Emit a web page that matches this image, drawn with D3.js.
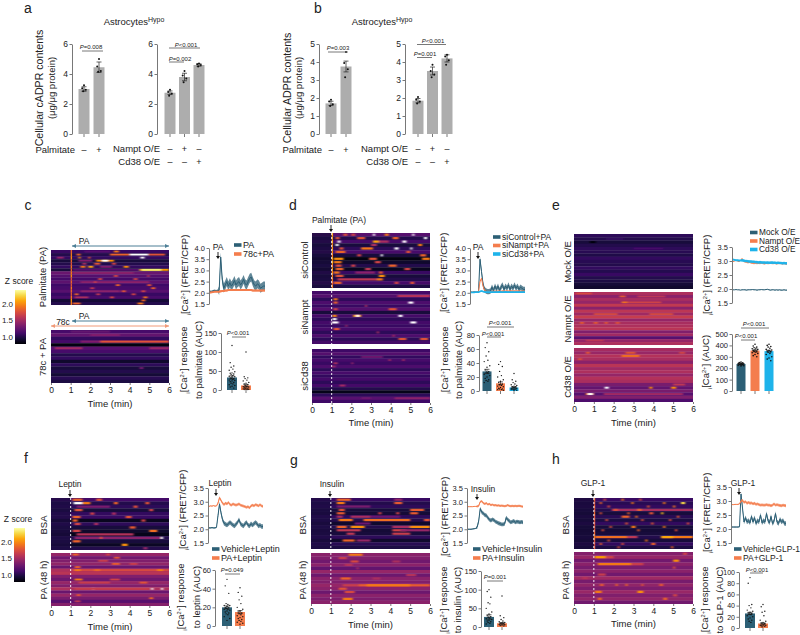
<!DOCTYPE html>
<html>
<head>
<meta charset="utf-8">
<script src="https://cdn.jsdelivr.net/npm/d3@7"></script>
<style>
body { margin: 0; background: #fff; }
text { font-family: "Liberation Sans", Arial, sans-serif; fill: #222; }
</style>
</head>
<body>
<div id="fig"></div>
<script>
var teal = '#2c5f75', orange = '#f47d4d', cyan = '#1eb3ea', grey = '#adadad';

// bar panels a, b
var aPalmMeans = [3.0, 4.45], aPalmErr = [0.15, 0.35];
var aPalmDots = [[3.25, 3.05, 2.95, 2.85], [5.0, 4.5, 4.2, 4.15]];
var aOeMeans = [2.75, 3.8, 4.6], aOeErr = [0.12, 0.25, 0.08];
var aOeDots = [[2.95, 2.8, 2.7, 2.55], [4.2, 3.9, 3.7, 3.45], [4.7, 4.65, 4.6, 4.5]];
var bPalmMeans = [1.7, 3.75], bPalmErr = [0.12, 0.3];
var bPalmDots = [[1.9, 1.8, 1.65, 1.55], [4.55, 3.95, 3.6, 3.15]];
var bOeMeans = [1.85, 3.5, 4.2], bOeErr = [0.12, 0.22, 0.2];
var bOeDots = [[2.05, 1.9, 1.8, 1.7], [3.85, 3.5, 3.3, 3.15], [4.4, 4.3, 4.1, 3.85]];

// calcium traces, one value every 10 s
var cPa = [2.05,2.05,2.08,2.1,2.08,2.1,2.1,3.6,2.6,2.2,2.35,2.5,2.3,2.45,2.3,2.4,2.55,2.35,2.45,2.5,2.35,2.45,2.6,2.4,2.35,2.5,2.65,2.7,2.5,2.35,2.3,2.4,2.35,2.2,2.25,2.3,2.3];
var c78 = [2.0,2.02,2.03,2.05,2.05,2.05,2.05,2.07,2.08,2.08,2.1,2.1,2.12,2.12,2.12,2.12,2.13,2.12,2.12,2.12,2.12,2.12,2.13,2.13,2.12,2.12,2.12,2.12,2.1,2.1,2.1,2.1,2.1,2.1,2.1,2.1,2.1];
var dCtl = [2.03,2.02,2.04,2.03,2.03,2.05,3.5,2.95,2.4,2.15,2.08,2.05,2.05,2.08,2.25,2.1,2.3,2.15,2.3,2.1,2.25,2.35,2.15,2.3,2.2,2.35,2.15,2.3,2.2,2.35,2.2,2.3,2.15,2.25,2.2,2.15,2.15];
var dNam = [2.03,2.03,2.03,2.03,2.04,2.05,2.5,2.65,2.3,2.12,2.06,2.05,2.05,2.05,2.06,2.06,2.07,2.06,2.07,2.07,2.06,2.08,2.07,2.07,2.08,2.07,2.08,2.08,2.07,2.08,2.07,2.08,2.07,2.07,2.07,2.07,2.06];
var dCd = [2.02,2.02,2.02,2.03,2.03,2.03,2.06,2.08,2.06,2.04,2.03,2.03,2.03,2.03,2.03,2.03,2.03,2.03,2.03,2.04,2.03,2.03,2.03,2.04,2.03,2.03,2.03,2.03,2.03,2.03,2.03,2.03,2.03,2.03,2.03,2.03,2.03];
var eMock = [1.97,1.97,1.98,1.97,1.97,1.96,1.97,1.97,1.97,1.96,1.97,1.97,1.97,1.98,1.97,1.97,1.96,1.97,1.97,1.98,1.97,1.97,1.98,1.99,1.97,1.96,1.97,1.97,1.96,1.97,1.96,1.97,1.96,1.96,1.97,1.96,1.96];
var eNam = [2.98,3.0,3.02,3.0,2.98,3.02,3.08,3.0,2.98,2.97,2.95,2.97,2.94,2.93,2.92,2.93,2.92,2.93,2.92,2.94,2.92,2.91,2.93,2.92,2.92,2.94,2.92,2.92,2.93,2.91,2.92,2.93,2.92,2.91,2.92,2.91,2.9];
var eCd = [3.05,3.04,3.03,3.03,3.02,3.02,3.03,3.02,3.0,3.0,2.99,2.98,2.98,2.97,2.97,2.96,2.96,2.95,2.96,2.95,2.95,2.95,2.94,2.95,2.94,2.94,2.95,2.94,2.94,2.93,2.94,2.93,2.93,2.92,2.93,2.92,2.92];
var fVeh = [2.05,2.05,2.06,2.05,2.05,2.07,2.5,2.92,2.6,2.35,2.22,2.18,2.15,2.2,2.25,2.2,2.15,2.12,2.18,2.25,2.35,2.2,2.15,2.12,2.2,2.25,2.15,2.12,2.2,2.15,2.2,2.25,2.2,2.12,2.15,2.1,2.1];
var fPa = [2.83,2.85,2.84,2.86,2.84,2.85,2.95,3.15,3.05,2.95,2.9,2.95,2.92,2.98,2.9,2.88,2.92,2.9,2.88,2.9,2.92,2.88,2.86,2.84,2.82,2.8,2.82,2.78,2.85,2.88,2.85,2.9,2.88,2.85,2.9,2.85,2.83];
var gVeh = [2.0,2.0,2.0,2.01,2.02,2.03,2.08,2.3,2.75,2.62,2.58,2.52,2.5,2.42,2.35,2.32,2.36,2.33,2.28,2.25,2.22,2.2,2.18,2.18,2.2,2.42,2.35,2.3,2.25,2.28,2.3,2.25,2.28,2.27,2.25,2.27,2.25];
var gPa = [2.82,2.82,2.82,2.82,2.83,2.83,2.83,2.85,3.0,3.02,2.95,2.92,2.95,2.9,2.92,2.88,2.9,2.87,2.88,2.86,2.87,2.85,2.86,2.85,2.84,2.85,2.88,2.85,2.84,2.85,2.84,2.85,2.84,2.85,2.85,2.83,2.82];
var hVeh = [2.07,2.07,2.07,2.07,2.07,2.08,3.25,2.75,2.25,2.4,2.25,2.3,2.22,2.45,2.25,2.4,2.2,2.3,2.25,2.5,2.22,2.3,2.25,2.55,2.3,2.22,2.45,2.2,2.28,2.55,2.25,2.2,2.35,2.25,2.3,2.2,2.2];
var hPa = [2.87,2.87,2.88,2.88,2.88,2.9,3.0,3.02,2.95,2.98,2.92,2.95,2.92,2.93,2.9,2.92,2.88,2.9,2.87,2.85,2.86,2.85,2.85,2.87,2.85,2.85,2.83,2.85,2.9,2.85,2.87,2.85,2.84,2.83,2.85,2.84,2.83];

// response (AUC) per cell
var cAuc = [[117,72,63,60,55,52,48,45,44,42,40,38,36,35,34,32,30,30,28,26,25,24,22,20,18,16,14,12,10,8,5],
            [100,35,32,30,26,24,20,18,16,14,12,10,9,8,7,6,5,4,3,3,2,2,1,1]];
var cAucMeans = [33, 12], cAucErr = [4, 3];
var dAuc = [[69,62,56,50,44,42,36,34,30,28,27,26,24,22,20,18,16,15,14,12],
            [42,38,35,28,22,20,16,14,12,10,9,8,7,6,5,4,3,3,2,2,1],
            [25,16,14,12,10,9,8,7,6,6,5,5,4,4,3,3,3,2,2,2,1,1]];
var dAucMeans = [28, 11, 5], dAucErr = [3, 2, 1];
var eAuc = [[255,250,248,245,242,240,238,236,235,232,230,228,225,222,220],
            [410,395,385,380,375,370,365,360,355,350,345,340,335,330,320,310,300],
            [410,400,390,385,375,365,360,355,350,345,340,330,320,300,290,280,265]];
var eAucMeans = [237, 355, 350], eAucErr = [4, 6, 8];
var fAuc = [[50,43,35,24,23,22,22,21,20,20,19,18,18,17,16,15,14,13,12,10,8,6],
            [41,36,32,28,24,20,18,16,15,14,13,12,11,10,9,8,7,6,5,4,3,2]];
var fAucMeans = [20, 15], fAucErr = [1.5, 1.5];
var gAuc = [[100,95,80,65,62,50,40,35,30,28,26,24,22,20,18,16,14,12,10,8],
            [83,30,25,20,16,14,12,11,10,9,8,8,7,6,5,4,3]];
var gAucMeans = [27, 10], gAucErr = [6, 2];
var hAuc = [[90,80,42,40,36,32,30,28,27,26,25,24,22,20,18,16,14,12,10],
            [42,38,30,28,22,14,12,10,9,8,7,6,5,5,4,4,3,2]];
var hAucMeans = [26, 8], hAucErr = [2, 1];

// heat maps: z per row, then hot stretches [row, from min, to min, z]
var cTopRows = [1.15,1.05,1.12,1.0,1.05,1.12,1.0,1.38,1.28,1.2,1.32,1.18,1.22,1.3,1.15,1.22,0.98,1.05];
var cTopSpots = [[0,3.2,3.45,2.2],[0,1.7,3,1.3],[1,4,4.95,3],[1,3,4,2.1],[1,4.95,5.8,2.0],[1,1.3,1.5,2.1],[2,1.4,1.5,2.4],[2,1.9,2,2.1],[2,4.55,4.75,3],[2,0.3,0.65,1.6],
  [3,2.3,3.2,2.3],[3,2.6,2.9,3],[3,1.4,2.1,1.5],[4,2.2,2.5,2.0],[4,3.1,3.3,1.9],[4,1.6,1.8,1.7],[5,1.5,1.75,2.2],[5,1.9,2.15,2.4],[5,3.7,3.95,2.3],[5,2.5,3.1,1.5],
  [6,4.5,6,2.35],[6,4.6,5.6,2.7],[6,1.1,4.5,1.3],[7,1.1,4.2,1.55],[8,3.2,3.4,1.9],[8,4.9,5,1.8],[9,2.4,2.6,1.9],[9,4.2,4.4,1.9],[10,1.5,5,1.55],[10,2.2,2.3,1.9],
  [11,3.3,3.5,2.1],[11,4.9,5.1,2],[12,2,2.2,1.8],[12,5.1,5.3,2.1],[13,1.5,3.5,1.55],[13,3.6,3.8,2],[13,4.6,4.8,1.9],[14,1.2,1.4,2.1],[14,2.3,2.5,1.8],[14,4.1,4.3,1.9],
  [15,1.2,1.9,1.7],[15,3,3.2,1.9],[15,4.7,4.9,2.2],[16,4.6,4.8,2.1],[17,1.1,1.5,2.1],[17,4.4,4.7,2.2]];
var cTopOnset = [2.1,2.2,2.3,2.1,2,2.2,2.1,2.2,2.3,2,2.1,2,2.2,2.1,2,2.2,2.3,2.2];
var cBotRows = [1.22,1.35,1.12,1.2,0.85,1.3,1.22,1.05,1.12,0.95,1.1,1.0,1.05,0.98,1.08,1.02];
var cBotSpots = [[3,2.5,6,2.0],[3,1.5,2.5,1.5],[5,0.2,1.6,1.65],[5,5,6,1.6],[1,2,3.5,1.5],[0,1,3,1.35],[11,4.5,4.7,1.4]];

var dTopRows = [1.3,1.05,1.2,1.0,1.1,1.22,1.0,0.85,0.95,1.05,0.9,1.15,1.0,1.05,1.2,1.02];
var dTopSpots = [[0,3.1,3.2,3],[0,3.7,3.9,2.2],[0,5.1,5.2,3],[0,1.6,1.8,2],[0,2,2.2,1.9],[1,1.2,1.4,2],[1,2.3,2.7,2.0],[1,4.1,4.4,2.1],[1,5.7,5.85,3],[2,1.3,1.45,3],
  [2,3.1,3.4,2.4],[2,3.4,3.9,1.7],[2,4.6,4.8,3],[3,1.2,1.35,3],[3,3,3.3,1.7],[3,5.4,5.6,2.2],[4,1.4,1.6,2],[4,2.5,3.1,2.2],[4,4.2,4.4,3],[4,5,5.1,3],
  [5,1.2,1.7,2.1],[5,4.8,5,2],[6,2.3,2.5,1.9],[6,3.5,3.6,3],[6,5.5,5.8,2.1],[7,1.1,1.6,2.3],[7,2.9,3.3,2],[7,5.6,6,2.2],[8,1.1,1.5,2.2],[8,3.2,3.5,1.9],
  [9,1.2,1.5,2],[9,2,2.2,1.9],[9,3.9,4.3,2.1],[10,1.2,1.6,2.1],[10,2.7,3,1.8],[10,4.7,5,1.9],[11,1.1,1.4,2.2],[11,2.2,3.2,1.55],[11,3.4,3.6,2],[12,1.2,1.6,2],[12,3.4,3.7,2.3],
  [13,1.3,3.3,1.8],[13,3.3,3.6,2.2],[14,1.1,1.5,2.1],[14,4.2,4.4,1.9],[14,5,5.2,2]];
var dTopOnset = [2.4,2.3,2.4,2.2,2.3,2.3,2.2,2.3,2.4,2.2,2.3,2.3,2.2,2.2,2.1,2.2];
var dMidRows = [1.2,1.28,1.1,1.25,1.15,1.28,1.0,1.2,1.1,1.2,1.15,1.22,1.1,1.25,1.1,1.2];
var dMidSpots = [[1,4.35,6,1.75],[2,1.1,1.3,2.2],[3,1.1,1.3,2.1],[3,4.9,5.15,3],[5,3.9,4.3,2],[5,1.1,1.3,1.9],[7,1.05,1.25,2.3],[8,1.05,1.25,3],[7,2.1,2.5,2.4],[7,2.25,2.4,3],
  [7,4.4,4.6,3],[9,1,1.35,3],[9,5,5.3,3],[11,1.1,1.4,2],[12,3.3,3.4,1.7],[13,4.1,4.2,1.7],[14,4.4,4.8,2],[14,5.5,5.9,2],[4,2.7,2.8,1.7],[10,1.7,1.8,1.6]];
var dBotRows = [1.18,1.28,1.12,1.22,1.15,1.25,1.1,1.22,1.12,1.2,1.1,1.2,1.05,0.88,1.1,1.3,1.18];
var dBotSpots = [[4,1.1,1.3,1.7],[4,2,2.1,1.6],[3,3.9,4,1.7],[3,4.6,4.7,1.7],[2,2.5,3.6,1.4],[11,1.4,1.7,1.65],[5,1,1.2,1.6],[15,4.2,6,1.55],[15,2.5,3,1.4]];

var eTopRows = [1.1,1.05,1.0,1.05,1.1,1.08,1.04,1.12,1.08,1.05,1.12,1.06,1.15,1.05,1.02,0.98,0.95];
var eTopSpots = [[2,0.8,1.1,0.85],[1,1.6,2.5,1.12],[4,3,4.5,1.2]];
var eMidRows = [1.72,1.55,1.7,1.6,1.82,1.55,1.8,1.65,1.85,1.6,1.7,1.72,1.78,1.5,1.65,1.3,1.6,1.72];
var eMidSpots = [[0,0.1,0.9,1.95],[1,2.3,2.6,2.05],[1,3.2,4.6,1.8],[3,2.4,2.7,2.15],[3,2.7,4.4,1.9],[7,1,2.2,1.95],[7,3.8,5,1.95],[10,0.3,0.5,2.05],[10,1,1.2,2.05],[10,1.55,1.7,2.05],[10,2.1,2.3,2],[16,0.6,1.5,1.8]];
var eBotRows = [1.68,1.62,1.75,1.7,1.55,1.78,1.65,1.72,1.6,1.75,1.7,1.45,1.35,1.45,1.3,1.5,1.25];
var eBotSpots = [[1,0.6,0.8,2.0],[1,2.6,3.1,2.0],[2,2.4,3.3,2.15],[1,5.3,5.6,1.9],[12,1.55,1.75,3],[12,3.8,3.95,2.3],[12,4.9,5.15,2.3],[14,0.6,1,2.2],[14,0.7,0.95,3],[14,1.5,5.5,1.65],[3,0.2,0.4,1.95],[11,5,5.6,1.8]];

var fTopRows = [1.2,1.05,1.1,1.0,1.12,1.15,0.9,1.1,1.0,0.95,0.88,1.05,1.0,0.92,1.05];
var fTopSpots = [[0,1.1,1.6,2.1],[0,2.3,2.6,2],[1,1.15,1.6,3],[1,1.6,2,2.2],[1,3.2,3.4,2.1],[1,4.8,5,2],[2,1.3,3,1.45],[2,4.2,4.4,2],[3,1.2,1.6,2],[3,5,5.2,1.9],
  [4,2,2.2,1.9],[4,3.1,3.3,1.7],[5,1.1,1.5,2.1],[5,3.8,4.1,2],[6,1.1,1.35,2.1],[6,4.6,4.8,1.9],[7,1.2,1.5,1.9],[7,2.2,2.4,1.7],[8,4,4.3,2.05],[9,1.1,1.5,1.9],[9,5,5.4,2.15],
  [10,1.3,4.2,1.75],[11,1.2,5.6,1.55],[11,2.5,2.6,2],[11,5.6,5.7,3],[12,1.1,1.5,2.1],[13,3.6,3.9,2.3],[14,4.7,4.9,1.6]];
var fBotRows = [1.6,1.42,1.5,1.58,1.38,1.72,1.78,1.5,1.4,1.6,1.5,1.72,1.38,1.6,1.45,1.3,1.52];
var fBotSpots = [[0,1.1,1.4,2.1],[0,2.8,3,1.9],[1,3.2,3.5,2],[2,2.4,2.9,1.85],[3,3.1,3.5,2.05],[3,4,4.4,1.85],[4,1.2,1.5,2.05],[5,1.1,6,1.95],[5,1.2,1.5,2.2],[5,2.2,2.5,2.1],[5,5.4,5.7,2.2],
  [8,1.2,1.6,2.2],[8,3,3.5,1.9],[9,1.4,3,1.85],[9,4.5,4.9,2],[11,2.1,2.2,3],[11,5.1,5.2,3],[11,5.6,5.7,3],[11,1.2,5,1.85],[13,1.3,1.5,2],[14,5,5.2,2.1],[15,1.2,1.5,1.8]];
var gTopRows = [1.15,1.05,1.1,1.0,0.98,1.1,1.05,0.95,1.05,0.98,1.0,1.1,0.95,1.08,1.02];
var gTopSpots = [[0,1.3,2,2.1],[0,4.2,4.6,1.6],[1,1.3,1.7,2.2],[1,4.2,4.6,2.05],[2,1.3,3,1.45],[3,1.4,1.7,2],[3,5,5.7,2.05],[4,1.3,1.7,2.05],[4,3.4,3.55,1.9],[4,4.3,4.45,1.9],[4,5,5.4,2.05],
  [5,1.3,1.6,1.7],[5,2,3,1.7],[5,3,4.5,1.4],[6,1.4,2.1,2.2],[6,2.65,5,2.15],[6,5.7,6,2],[7,2.2,3,1.4],[8,1.3,1.8,2.1],[8,2,2.7,2.3],[8,4.1,5,1.7],[8,5,6,2.3],[9,1.3,2.5,1.8],[9,4.1,4.8,1.9],[9,4.5,6,1.6],[10,1.8,2.2,1.8],[10,4.1,5,1.85],[12,1.6,2.2,2.1],[12,2.3,3,1.6]];
var gBotRows = [1.55,1.5,1.42,1.55,1.35,1.6,1.4,1.55,1.5,1.6,1.55,1.4,1.55,1.48,1.55];
var gBotSpots = [[0,1.9,2.6,2.2],[1,1.4,1.8,1.85],[2,2,2.4,1.95],[2,4.1,4.5,1.7],[3,1.7,2.1,1.75],[4,2.3,2.4,1.7],[6,4.8,5.3,1.75],[7,1.5,2,2.1],[7,3.1,3.5,1.7],[9,1.6,2.4,1.85],[9,2.4,6,2.05],[9,2.8,5,2.2],[10,1.4,1.8,2],[11,1.7,2.2,1.95],[13,1.6,2.1,2.2]];
var hTopRows = [1.15,1.08,1.12,1.05,1.0,1.08,1.02,1.12,1.0,0.98,1.0,1.05,1.0,1.12,1.02];
var hTopSpots = [[0,1.5,1.6,2],[0,2.4,2.5,2.2],[0,3.3,3.4,2],[1,1.3,1.4,2.1],[1,2.9,3,2.2],[1,4.5,4.6,2.2],[1,5.4,5.6,2.6],[2,1.7,1.8,2],[2,3.7,3.8,2.1],[2,5,5.1,2.2],
  [3,1.9,6,1.7],[3,2,2.2,2],[3,3.2,3.4,2.1],[4,1.3,1.4,2],[4,2.7,2.8,2.1],[4,3.8,4,2],[4,4.4,4.5,2.5],[5,2.4,2.8,2.1],[5,3.1,3.2,2.2],[5,5.2,5.3,2.1],
  [6,1.6,1.7,2],[6,3.4,3.5,2],[6,4.8,4.9,2],[7,2.6,2.7,2.1],[7,3.9,4,2.1],[7,5.7,5.8,2],[8,1.8,1.9,2],[8,2.9,3.1,2.2],[8,4.5,4.6,2.2],[9,1.4,1.5,2],[9,3.2,3.3,2.1],[9,5.1,5.2,2],
  [11,1.05,2.7,2.15],[11,2.7,3.2,1.8],[11,4.4,6,2.2],[11,4.4,5,2.4],[12,1.7,1.8,2],[12,3.6,3.7,2.2],[13,1.3,1.4,2.1],[13,2.4,2.5,2],[13,3.9,4.1,2.1],[14,2.2,2.3,2],[14,4.9,5,2.1]];
var hTopOnset = [2.1,2.0,2.1,2.0,2.1,2.0,2.0,2.0,2.0,2.0,2.1,2.2,2.0,2.0,2.0];
var hBotRows = [1.52,1.6,1.42,1.55,1.45,1.55,1.42,1.65,1.45,1.58,1.48,1.62,1.5,1.58,1.42];
var hBotSpots = [[1,1.05,1.6,2.35],[1,1.6,2,1.9],[2,5,5.3,2.3],[3,1.2,2.9,2.2],[3,2.9,3.5,1.85],[4,5,5.1,2],[6,1.2,1.6,1.85],[7,0.4,0.7,1.75],[9,1.3,1.5,2],[9,2.1,2.2,2.1],[9,2.6,2.7,2.1],[9,3.4,3.5,2],[9,4.3,4.5,2],
  [11,1.05,1.4,2.2],[11,3.2,3.5,2.3],[12,5,5.2,1.9],[13,1.2,1.4,2.1],[13,4.5,4.7,2.1],[0,5.5,5.7,1.9]];

var xMinTicks = [0, 1, 2, 3, 4, 5, 6];

var svg = d3.select('#fig').append('svg').attr('width', 800).attr('height', 635);
var defs = svg.append('defs');
defs.append('filter').attr('id', 'soft').attr('x', '-5%').attr('y', '-5%').attr('width', '110%').attr('height', '110%')
    .append('feGaussianBlur').attr('stdDeviation', '0.9 0.25');

// cells run a little under the scale bar, hot spots are narrow in the original
var heat = d3.scaleSequential(d3.interpolateInferno).domain([0.79, 2.8]).clamp(true);
function zColor(z) { return z >= 3 ? '#fff' : heat(z); }

function label(x, y, txt, size, anchor, rotate) {
    var t = svg.append('text').attr('x', x).attr('y', y).attr('dy', '.35em')
        .attr('font-size', size).attr('text-anchor', anchor || 'middle').text(txt);
    if (rotate) t.attr('transform', 'rotate(-90 ' + x + ' ' + y + ')');
    return t;
}

// [Ca2+]i style label, the i sits in front of the bracket
function caLabel(x, y, after, size) {
    var t = svg.append('text').attr('x', x).attr('y', y).attr('dy', '.35em').attr('font-size', size)
        .attr('text-anchor', 'middle').attr('transform', 'rotate(-90 ' + x + ' ' + y + ')');
    t.append('tspan').attr('font-size', size * 0.6).attr('dy', '.45em').text('i');
    t.append('tspan').attr('dy', '-.3em').text('[Ca');
    t.append('tspan').attr('font-size', size * 0.6).attr('dy', '-.55em').text('2+');
    t.append('tspan').attr('dy', '.35em').text(']' + after);
}

function pLabel(x, y, txt) {
    var t = svg.append('text').attr('x', x).attr('y', y).attr('dy', '.35em').attr('font-size', 6)
        .attr('text-anchor', 'middle');
    t.append('tspan').attr('font-style', 'italic').text('P');
    t.append('tspan').text(txt);
}

function bracket(x0, x1, y) {
    svg.append('line').attr('x1', x0).attr('x2', x1).attr('y1', y).attr('y2', y)
        .attr('stroke', '#555').attr('stroke-width', 0.8);
}

function downArrow(x, y0, y1) {
    svg.append('line').attr('x1', x).attr('x2', x).attr('y1', y0).attr('y2', y1 - 2).attr('stroke', '#111').attr('stroke-width', 0.9);
    svg.append('path').attr('d', d3.line()([[x - 2, y1 - 3], [x + 2, y1 - 3], [x, y1]])).attr('fill', '#111');
}

function spanArrow(x0, x1, y, col, both) {
    svg.append('line').attr('x1', x0).attr('x2', x1).attr('y1', y).attr('y2', y).attr('stroke', col).attr('stroke-width', 1);
    svg.append('path').attr('d', d3.line()([[x1, y], [x1 - 4, y - 2], [x1 - 4, y + 2]])).attr('fill', col);
    if (both) svg.append('path').attr('d', d3.line()([[x0, y], [x0 + 4, y - 2], [x0 + 4, y + 2]])).attr('fill', col);
}

function styleAxis(g, size) {
    g.selectAll('path, line').attr('stroke', '#555').attr('stroke-width', 0.8);
    g.selectAll('text').attr('font-size', size).attr('fill', '#222');
}

function yAxis(x, y, ticks, fmt, size) {
    var g = svg.append('g').attr('transform', 'translate(' + x + ',0)')
        .call(d3.axisLeft(y).tickValues(ticks).tickSize(2.5).tickPadding(1.5).tickSizeOuter(0).tickFormat(fmt || d3.format('d')));
    styleAxis(g, size || 8);
}

function drawDots(g, xPos, y, vals, r) {
    var off = [0, -1.8, 1.8, -0.9, 0.9, -2.8, 2.8];
    g.selectAll(null).data(vals).enter().append('circle')
        .attr('cx', function (d, i) { return xPos + off[i % off.length]; })
        .attr('cy', function (d) { return y(d); })
        .attr('r', r).attr('fill', '#111');
}

function barChart(o) {
    var y = d3.scaleLinear().domain([0, o.max]).range([o.y0, o.y1]);
    var x = d3.scalePoint().domain(d3.range(o.means.length)).range(o.span);
    yAxis(o.axisX, y, o.ticks, d3.format('d'), o.size || 8.5);
    var g = svg.append('g');
    g.selectAll('rect').data(o.means).enter().append('rect')
        .attr('x', function (d, i) { return x(i) - o.w / 2; })
        .attr('y', function (d) { return y(d); })
        .attr('width', o.w)
        .attr('height', function (d) { return y(0) - y(d); })
        .attr('fill', function (d, i) { return o.colors ? o.colors[i] : grey; });
    o.means.forEach(function (m, i) {
        var up = y(m + o.err[i]), dn = y(m - o.err[i]), cx = x(i), col = o.errColor || '#222';
        g.append('path').attr('d', 'M' + cx + ',' + up + 'V' + dn + 'M' + (cx - 2.5) + ',' + up + 'H' + (cx + 2.5) + 'M' + (cx - 2.5) + ',' + dn + 'H' + (cx + 2.5))
            .attr('stroke', col).attr('stroke-width', 0.7).attr('fill', 'none');
        drawDots(g, cx, y, o.dots[i], o.r || 1);
        g.append('line').attr('x1', cx).attr('x2', cx).attr('y1', o.y0).attr('y2', o.y0 + 3).attr('stroke', '#555').attr('stroke-width', 0.8);
    });
    return x;
}

function signs(x, vals, yy) {
    vals.forEach(function (s, i) { label(x(i), yy, s, 9); });
}

function heatMap(o) {
    var id = 'clip' + o.x + '_' + o.y0;
    defs.append('clipPath').attr('id', id).append('rect').attr('x', o.x).attr('y', o.y0).attr('width', o.w).attr('height', o.y1 - o.y0);
    var x = d3.scaleLinear().domain([0, 6]).range([o.x, o.x + o.w]);
    var y = d3.scaleBand().domain(d3.range(o.rows.length)).range([o.y0, o.y1]);
    var g = svg.append('g').attr('clip-path', 'url(#' + id + ')');
    g.selectAll('rect.row').data(o.rows).enter().append('rect').attr('class', 'row')
        .attr('x', x(0)).attr('width', x(6) - x(0))
        .attr('y', function (d, i) { return y(i); }).attr('height', y.bandwidth() + 0.3)
        .attr('fill', zColor);
    if (o.pre) {
        // quiet baseline before the stimulus, rows only just show through
        g.append('rect').attr('x', x(0)).attr('width', x(1) - x(0)).attr('y', o.y0).attr('height', o.y1 - o.y0)
            .attr('fill', zColor(o.pre)).attr('fill-opacity', 0.75);
    }
    var hot = g.append('g').attr('filter', 'url(#soft)');
    hot.selectAll('rect').data(o.spots).enter().append('rect')
        .attr('x', function (d) { return x(d[1]); })
        .attr('width', function (d) { return x(d[2]) - x(d[1]); })
        .attr('y', function (d) { return y(d[0]) + 0.6; })
        .attr('height', y.bandwidth() - 1.2)
        .attr('fill', function (d) { return zColor(d[3]); });
    if (o.onset) {
        g.selectAll('rect.onset').data(o.onset).enter().append('rect').attr('class', 'onset')
            .attr('x', x(1)).attr('width', x(1.07) - x(1))
            .attr('y', function (d, i) { return y(i); }).attr('height', y.bandwidth())
            .attr('fill', zColor);
    }
    if (o.dash) {
        svg.append('line').attr('x1', x(1)).attr('x2', x(1)).attr('y1', o.y0).attr('y2', o.y1)
            .attr('stroke', '#fff').attr('stroke-width', 0.9).attr('stroke-dasharray', '2,2');
    }
    return x;
}

function timeAxis(x, y, labelY) {
    var g = svg.append('g').attr('transform', 'translate(0,' + y + ')')
        .call(d3.axisBottom(x).tickValues(xMinTicks).tickSize(2).tickPadding(2).tickSizeOuter(0).tickFormat(d3.format('d')));
    g.select('.domain').remove();
    styleAxis(g, 8.5);
    label((x.range()[0] + x.range()[1]) / 2, labelY, 'Time (min)', 9.5);
}

function trace(o) {
    var y = d3.scaleLinear().domain(o.domain).range(o.yRange);
    yAxis(o.axisX, y, o.ticks, d3.format('.1f'), 7.5);
    var x = d3.scaleLinear().domain([0, 6]).range([o.axisX + 1, o.endX]);
    var g = svg.append('g');
    o.series.forEach(function (s) {
        var t = function (d, i) { return x(i * 6 / (s.vals.length - 1)); };
        var sp = function (i) { return i < 6 ? s.band * 0.25 : s.band; };
        g.append('path').attr('fill', s.color).attr('fill-opacity', 0.75)
            .attr('d', d3.area().x(t)
                .y0(function (d, i) { return y(d - sp(i)); })
                .y1(function (d, i) { return y(d + sp(i)); })(s.vals));
        g.append('path').attr('fill', 'none').attr('stroke', s.color).attr('stroke-width', s.lw || 1)
            .attr('d', d3.line().x(t).y(function (d) { return y(d); })(s.vals));
    });
}

function legend(x, ys, names, cols, size) {
    names.forEach(function (n, i) {
        svg.append('rect').attr('x', x).attr('y', ys[i] - 1.8).attr('width', 7.5).attr('height', 3.6).attr('fill', cols[i]);
        label(x + 9, ys[i], n, size || 9, 'start');
    });
}

function colorBar(x, y0, y1) {
    var id = 'grad' + y0;
    var lg = defs.append('linearGradient').attr('id', id).attr('x1', 0).attr('x2', 0).attr('y1', 1).attr('y2', 0);
    d3.range(0, 1.01, 0.1).forEach(function (t) {
        lg.append('stop').attr('offset', t).attr('stop-color', d3.interpolateInferno(t));
    });
    svg.append('rect').attr('x', x).attr('y', y0).attr('width', 11).attr('height', y1 - y0).attr('fill', 'url(#' + id + ')');
    var z = d3.scaleLinear().domain([0.79, 2.42]).range([y1, y0]);
    [1.0, 1.5, 2.0].forEach(function (v) { label(x - 2, z(v), v.toFixed(1), 8, 'end'); });
    label(x + 4, y0 - 9, 'Z score', 8.5);
}

// ---- a ----
label(28, 8, 'a', 14);
var t1 = label(134, 22, 'Astrocytes', 9.5);
t1.append('tspan').attr('font-size', 7).attr('dy', '-.5em').text('Hypo');
label(39, 88, 'Cellular cADPR contents', 10.6, 'middle', true);
label(52, 88, '(μg/μg protein)', 9.5, 'middle', true);
var ax1 = barChart({ means: aPalmMeans, err: aPalmErr, dots: aPalmDots, max: 6, ticks: [0, 2, 4, 6], axisX: 72, y0: 134, y1: 44, span: [84, 99], w: 11 });
var ax2 = barChart({ means: aOeMeans, err: aOeErr, dots: aOeDots, max: 6, ticks: [0, 2, 4, 6], axisX: 157, y0: 134, y1: 44, span: [170, 199], w: 11 });
label(75, 149.5, 'Palmitate', 9.5, 'end');
signs(ax1, ['–', '+'], 149.5);
label(160, 149, 'Nampt O/E', 9.5, 'end');
label(160, 161.5, 'Cd38 O/E', 9.5, 'end');
signs(ax2, ['–', '+', '–'], 149);
signs(ax2, ['–', '–', '+'], 161.5);
pLabel(91, 47, '=0.008'); bracket(82, 103, 51);
pLabel(186, 45, '<0.001'); bracket(169, 200, 48);
pLabel(180, 59, '=0.002'); bracket(169, 184, 62);

// ---- b ----
label(318, 8, 'b', 14);
var t2 = label(382, 22, 'Astrocytes', 9.5);
t2.append('tspan').attr('font-size', 7).attr('dy', '-.5em').text('Hypo');
label(287, 88, 'Cellular ADPR contents', 10.6, 'middle', true);
label(299, 88, '(μg/μg protein)', 9.5, 'middle', true);
var bx1 = barChart({ means: bPalmMeans, err: bPalmErr, dots: bPalmDots, max: 5, ticks: [0, 1, 2, 3, 4, 5], axisX: 319, y0: 134, y1: 44, span: [331, 346], w: 11 });
var bx2 = barChart({ means: bOeMeans, err: bOeErr, dots: bOeDots, max: 5, ticks: [0, 1, 2, 3, 4, 5], axisX: 405, y0: 134, y1: 44, span: [418, 447], w: 11 });
label(322, 149.5, 'Palmitate', 9.5, 'end');
signs(bx1, ['–', '+'], 149.5);
label(408, 149, 'Nampt O/E', 9.5, 'end');
label(408, 161.5, 'Cd38 O/E', 9.5, 'end');
signs(bx2, ['–', '+', '–'], 149);
signs(bx2, ['–', '–', '+'], 161.5);
pLabel(338, 48, '=0.003'); bracket(328, 348, 52);
pLabel(433, 41, '<0.001'); bracket(417, 446, 44.5);
pLabel(425, 53.5, '=0.001'); bracket(417, 432, 57.5);

// ---- c ----
label(28, 205, 'c', 14);
colorBar(15, 290, 344);
heatMap({ rows: cTopRows, spots: cTopSpots, onset: cTopOnset, x: 51, w: 118, y0: 250, y1: 305 });
var cx = heatMap({ rows: cBotRows, spots: cBotSpots, x: 51, w: 118, y0: 330, y1: 383 });
timeAxis(cx, 383, 404);
label(43, 277, 'Palmitate (PA)', 9.5, 'middle', true);
label(43, 357, '78c + PA', 9.5, 'middle', true);
spanArrow(72, 169, 246, '#4d7f96', true); label(84, 241, 'PA', 8.5);
spanArrow(72, 169, 321, '#4d7f96', true); label(84, 316, 'PA', 8.5);
spanArrow(51, 169, 326, '#f09a78', true); label(63, 322, '78c', 8.5);
trace({ domain: [1.5, 4], yRange: [304, 248], axisX: 209, endX: 265, ticks: [1.5, 2, 2.5, 3, 3.5, 4],
    series: [{ vals: cPa, color: teal, band: 0.2 }, { vals: c78, color: orange, band: 0.04, lw: 2 }] });
caLabel(188, 275, ' (FRET/CFP)', 9.5);
label(218, 247, 'PA', 8.5); downArrow(218, 252, 259);
legend(234, [245, 254], ['PA', '78c+PA'], [teal, orange]);
barChart({ means: cAucMeans, err: cAucErr, dots: cAuc, max: 150, ticks: [0, 50, 100, 150], axisX: 221, y0: 390, y1: 333, span: [232, 246], w: 10, colors: [teal, orange], r: 0.7, size: 7.5 });
caLabel(187, 360, ' response', 9.5);
label(199, 360, 'to palmitate (AUC)', 9.5, 'middle', true);
pLabel(238, 333, '<0.001'); bracket(232, 246, 337);

// ---- d ----
label(293, 205, 'd', 14);
heatMap({ rows: dTopRows, spots: dTopSpots, onset: dTopOnset, pre: 1.0, x: 312, w: 118, y0: 233, y1: 288, dash: true });
heatMap({ rows: dMidRows, spots: dMidSpots, x: 312, w: 118, y0: 291, y1: 344, dash: true });
var dx = heatMap({ rows: dBotRows, spots: dBotSpots, x: 312, w: 118, y0: 349, y1: 403, dash: true });
timeAxis(dx, 403, 423);
label(305, 260, 'siControl', 9.5, 'middle', true);
label(305, 317, 'siNampt', 9.5, 'middle', true);
label(305, 376, 'siCd38', 9.5, 'middle', true);
label(339, 220, 'Palmitate (PA)', 8.5); downArrow(331, 225, 232);
trace({ domain: [1.5, 4], yRange: [304, 248], axisX: 470, endX: 525, ticks: [1.5, 2, 2.5, 3, 3.5, 4],
    series: [{ vals: dCtl, color: teal, band: 0.12 }, { vals: dNam, color: orange, band: 0.03, lw: 1 }, { vals: dCd, color: cyan, band: 0.03, lw: 1.6 }] });
caLabel(447, 273, ' (FRET/CFP)', 9.5);
label(478, 247, 'PA', 8.5); downArrow(478, 252, 259);
legend(493, [237, 245.5, 254], ['siControl+PA', 'siNampt+PA', 'siCd38+PA'], [teal, orange, cyan], 8.5);
barChart({ means: dAucMeans, err: dAucErr, dots: dAuc, max: 80, ticks: [0, 20, 40, 60, 80], axisX: 479, y0: 391, y1: 335, span: [487, 514], w: 9, colors: [teal, orange, cyan], r: 0.7, size: 7.5 });
caLabel(448, 360, ' response', 9.5);
label(459, 360, 'to palmitate (AUC)', 9.5, 'middle', true);
pLabel(493, 334, '<0.001'); bracket(487, 501, 337);
pLabel(500, 323, '<0.001'); bracket(487, 514, 327);

// ---- e ----
label(556, 205, 'e', 14);
heatMap({ rows: eTopRows, spots: eTopSpots, x: 574, w: 119, y0: 234, y1: 289 });
heatMap({ rows: eMidRows, spots: eMidSpots, x: 574, w: 119, y0: 292, y1: 345 });
var ex = heatMap({ rows: eBotRows, spots: eBotSpots, x: 574, w: 119, y0: 348, y1: 402 });
timeAxis(ex, 402, 423);
label(568, 262, 'Mock O/E', 9.5, 'middle', true);
label(568, 319, 'Nampt O/E', 9.5, 'middle', true);
label(568, 377, 'Cd38 O/E', 9.5, 'middle', true);
trace({ domain: [1.5, 3.5], yRange: [303, 247], axisX: 732, endX: 787, ticks: [1.5, 2, 2.5, 3, 3.5],
    series: [{ vals: eMock, color: teal, band: 0.01 }, { vals: eNam, color: orange, band: 0.04 }, { vals: eCd, color: cyan, band: 0.045, lw: 2 }] });
caLabel(710, 275, ' (FRET/CFP)', 9.5);
legend(750, [232.5, 241, 249.5], ['Mock O/E', 'Nampt O/E', 'Cd38 O/E'], [teal, orange, cyan], 8.3);
barChart({ means: eAucMeans, err: eAucErr, dots: eAuc, max: 500, ticks: [0, 100, 200, 300, 400, 500], axisX: 732, y0: 391, y1: 334, span: [741, 769], w: 9, colors: [teal, orange, cyan], r: 0.8, size: 7.5 });
caLabel(709, 362, ' (AUC)', 9.5);
pLabel(746, 336, '<0.001'); bracket(741, 755, 340);
pLabel(754, 324, '<0.001'); bracket(741, 769, 328);

// ---- f ----
label(26, 458, 'f', 14);
colorBar(14, 528, 582);
heatMap({ rows: fTopRows, spots: fTopSpots, pre: 1.02, x: 51, w: 118, y0: 498, y1: 550, dash: true });
var fx = heatMap({ rows: fBotRows, spots: fBotSpots, x: 51, w: 118, y0: 553, y1: 606, dash: true });
timeAxis(fx, 606, 627);
label(44, 525, 'BSA', 9.5, 'middle', true);
label(44, 580, 'PA (48 h)', 9.5, 'middle', true);
label(70, 484, 'Leptin', 8.5); downArrow(70, 490, 497);
trace({ domain: [1.5, 3.5], yRange: [543, 488], axisX: 208, endX: 263, ticks: [1.5, 2, 2.5, 3, 3.5],
    series: [{ vals: fVeh, color: teal, band: 0.08, lw: 1 }, { vals: fPa, color: orange, band: 0.05 }] });
caLabel(186, 510, ' (FRET/CFP)', 9.5);
label(220, 483, 'Leptin', 8.5); downArrow(216, 489, 496);
legend(212, [549, 558], ['Vehicle+Leptin', 'PA+Leptin'], [teal, orange]);
barChart({ means: fAucMeans, err: fAucErr, dots: fAuc, max: 60, ticks: [0, 20, 40, 60], axisX: 215, y0: 626, y1: 570, span: [227, 240], w: 10, colors: [teal, orange], r: 0.7, size: 7.5 });
caLabel(184, 597, ' response', 9.5);
label(197, 597, 'to leptin (AUC)', 9.5, 'middle', true);
pLabel(232, 570, '=0.049'); bracket(225, 240, 574);

// ---- g ----
label(294, 460, 'g', 14);
heatMap({ rows: gTopRows, spots: gTopSpots, pre: 1.02, x: 311, w: 119, y0: 498, y1: 549, dash: true });
var gx = heatMap({ rows: gBotRows, spots: gBotSpots, x: 311, w: 119, y0: 553, y1: 604, dash: true });
timeAxis(gx, 604, 625);
label(303, 525, 'BSA', 9.5, 'middle', true);
label(303, 580, 'PA (48 h)', 9.5, 'middle', true);
label(332, 484, 'Insulin', 8.5); downArrow(330, 491, 497);
trace({ domain: [1.5, 3.5], yRange: [543, 488], axisX: 467, endX: 523, ticks: [1.5, 2, 2.5, 3, 3.5],
    series: [{ vals: gVeh, color: teal, band: 0.07 }, { vals: gPa, color: orange, band: 0.04 }] });
caLabel(448, 517, ' (FRET/CFP)', 9.5);
label(483, 489, 'Insulin', 8.5); downArrow(477, 494, 500);
legend(473, [549, 558], ['Vehicle+Insulin', 'PA+Insulin'], [teal, orange]);
barChart({ means: gAucMeans, err: gAucErr, dots: gAuc, max: 150, ticks: [0, 50, 100, 150], axisX: 481, y0: 627, y1: 571, span: [489, 502], w: 10, colors: [teal, orange], r: 0.7, size: 7.5 });
caLabel(447, 600, ' response', 9.5);
label(458, 600, 'to insulin (AUC)', 9.5, 'middle', true);
pLabel(495, 577, '=0.001'); bracket(487, 503, 581);

// ---- h ----
label(556, 459, 'h', 14);
heatMap({ rows: hTopRows, spots: hTopSpots, onset: hTopOnset, pre: 0.98, x: 574, w: 119, y0: 498, y1: 549, dash: true });
var hx = heatMap({ rows: hBotRows, spots: hBotSpots, x: 574, w: 119, y0: 552, y1: 604, dash: true });
timeAxis(hx, 604, 624);
label(566, 525, 'BSA', 9.5, 'middle', true);
label(566, 580, 'PA (48 h)', 9.5, 'middle', true);
label(593, 483, 'GLP-1', 8.5); downArrow(593, 490, 497);
trace({ domain: [1.5, 3.5], yRange: [543, 487], axisX: 731, endX: 786, ticks: [1.5, 2, 2.5, 3, 3.5],
    series: [{ vals: hVeh, color: teal, band: 0.08 }, { vals: hPa, color: orange, band: 0.05 }] });
caLabel(710, 513, ' (FRET/CFP)', 9.5);
label(743, 483, 'GLP-1', 8.5); downArrow(739, 488, 495);
legend(734, [549, 558], ['Vehicle+GLP-1', 'PA+GLP-1'], [teal, orange], 8.5);
barChart({ means: hAucMeans, err: hAucErr, dots: hAuc, max: 100, ticks: [0, 20, 40, 60, 80, 100], axisX: 739, y0: 628, y1: 572, span: [750, 763], w: 10, colors: [teal, orange], r: 0.7, size: 7 });
caLabel(708, 600, ' response', 9.5);
label(720, 600, 'to GLP-1 (AUC)', 9.5, 'middle', true);
pLabel(757, 570, '<0.001'); bracket(750, 763, 573);
</script>
</body>
</html>
